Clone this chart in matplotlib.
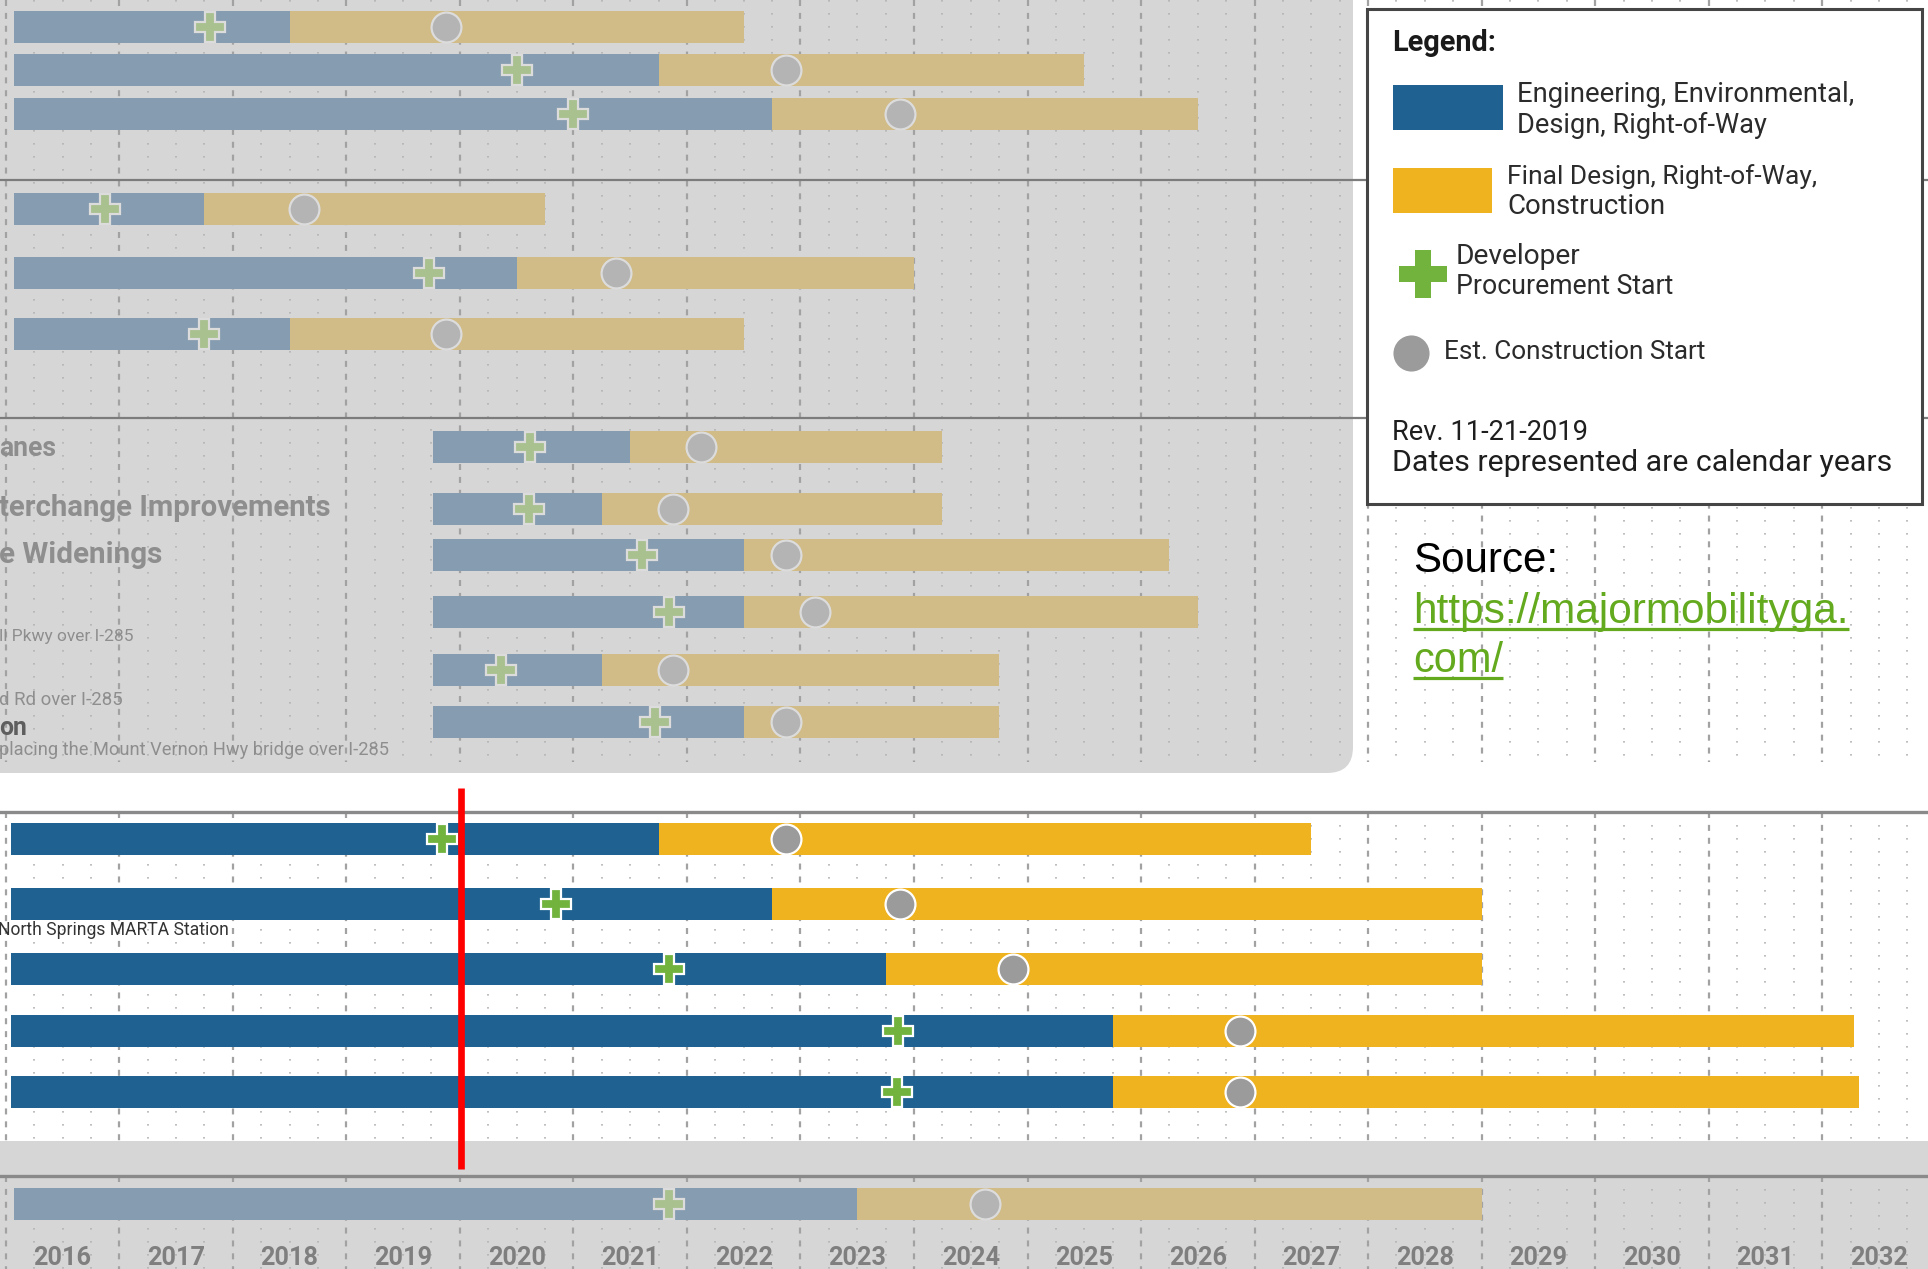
import matplotlib
matplotlib.use("Agg")
import matplotlib.pyplot as plt
from matplotlib.patches import FancyBboxPatch, Rectangle
import numpy as np

plt.rcParams["font.family"] = ["Roboto", "DejaVu Sans"]

# schedule per project row, in calendar years
eng_start = [2016.07, 2016.07, 2016.07, 2016.07, 2016.07, 2016.07,
             2019.76, 2019.76, 2019.76, 2019.76, 2019.76, 2019.76,
             2016.05, 2016.05, 2016.05, 2016.05, 2016.05,
             2016.07]
eng_end = [2018.5, 2021.75, 2022.75, 2017.75, 2020.5, 2018.5,
           2021.5, 2021.25, 2022.5, 2022.5, 2021.25, 2022.5,
           2021.75, 2022.75, 2023.75, 2025.75, 2025.75,
           2023.5]
procurement = [2017.8, 2020.5, 2021.0, 2016.87, 2019.73, 2017.75,
               2020.62, 2020.61, 2021.6, 2021.84, 2020.36, 2021.72,
               2019.84, 2020.85, 2021.84, 2023.86, 2023.85,
               2021.84]
construction = [2019.875, 2022.875, 2023.875, 2018.625, 2021.375, 2019.875,
                2022.125, 2021.875, 2022.875, 2023.125, 2021.875, 2022.875,
                2022.875, 2023.875, 2024.875, 2026.875, 2026.875,
                2024.625]
final_end = [2022.5, 2025.5, 2026.5, 2020.75, 2024.0, 2022.5,
             2024.25, 2024.25, 2026.25, 2026.5, 2024.75, 2024.75,
             2027.5, 2029.0, 2029.0, 2032.28, 2032.32,
             2029.0]
active = [False] * 12 + [True] * 5 + [False]
years = list(range(2016, 2033))
today = 2020.01

row_labels = ["anes", "terchange Improvements", "e Widenings"]
sub_labels = ["ll Pkwy over I-285", "d Rd over I-285",
              "placing the Mount Vernon Hwy bridge over I-285"]
legend_text = [["Engineering, Environmental,", "Design, Right-of-Way"],
               ["Final Design, Right-of-Way,", "Construction"],
               ["Developer", "Procurement Start"],
               ["Est. Construction Start"]]

# layout (pixels from top of the 1928x1269 canvas)
W, H = 1928, 1269
row_y = [27, 70, 114, 209, 273, 334,
         447, 509, 555, 612, 670, 722,
         839, 904, 969, 1031, 1092,
         1204]
BAR_H = 32

PANEL = "#d6d6d6"
BLUE, GOLD, GREEN, DOT = "#1f6190", "#efb31f", "#72b33e", "#9b9b9b"
BLUE_DIM, GOLD_DIM, GREEN_DIM, DOT_DIM = "#869db1", "#d1bb86", "#a8c18e", "#b4b4b4"

fig = plt.figure(figsize=(19.28, 12.69), dpi=100)
renderer = fig.canvas.get_renderer()


def fit(t, width):
    w = t.get_window_extent(renderer).width
    t.set_fontsize(t.get_fontsize() * width / w)
    return t


# background panels
bg = fig.add_axes([0, 0, 1, 1], zorder=0)
bg.set_xlim(0, W)
bg.set_ylim(H, 0)
bg.axis("off")
bg.add_patch(FancyBboxPatch((-60, -60), 1353 + 60, 773 + 60,
                            boxstyle="round,pad=0,rounding_size=26", fc=PANEL, ec="none"))
bg.add_patch(Rectangle((0, 1141), W, H - 1141, fc=PANEL, ec="none"))

# timeline
ax = fig.add_axes([0, 0, 1, 1], zorder=1)
ax.set_xlim(2015.9494, 2032.9317)
ax.set_ylim(H, 0)
ax.axis("off")

quarters = np.arange(2016, 2033.01, 0.25)
major = quarters[quarters % 1 == 0]
minor = quarters[quarters % 1 != 0]
for y0, y1 in [(0, 762), (812, 1141), (1176, H)]:
    ax.vlines(major, y0, y1, color="#a2a2a2", lw=1.6, linestyles=(0, (2.7, 3.1)), zorder=1)
    ax.vlines(minor, y0, y1, color="#b3b3b3", lw=1.2, linestyles=(0, (1.0, 6.8)), zorder=1)

for y in [180, 418]:
    ax.axhline(y, color="#7c7c7c", lw=1.6, zorder=1.5)
for y in [812, 1176]:
    ax.axhline(y, color="#8a8a8a", lw=2.4, zorder=1.5)

e0, e1 = np.array(eng_start), np.array(eng_end)
f1 = np.array(final_end)
proc, cons = np.array(procurement), np.array(construction)
ry = np.array(row_y)
on = np.array(active)

styles = [(~on, BLUE_DIM, GOLD_DIM, GREEN_DIM, DOT_DIM, "#dcdcdc"),
          (on, BLUE, GOLD, GREEN, DOT, "white")]
for m, cb, cg, cp, cd, edge in styles:
    ax.barh(ry[m], (e1 - e0)[m], left=e0[m], height=BAR_H, color=cb, lw=0, zorder=2)
    ax.barh(ry[m], (f1 - e1)[m], left=e1[m], height=BAR_H, color=cg, lw=0, zorder=2)
    ax.plot(proc[m], ry[m], ls="none", marker="P", ms=21, mfc=cp, mec=edge, mew=1.6, zorder=4)
    ax.plot(cons[m], ry[m], ls="none", marker="o", ms=21.5, mfc=cd, mec=edge, mew=1.6, zorder=4)

ax.vlines(today, 788, 1169, color="#ff0000", lw=4.8, zorder=5)

yl = [ax.text(yr + 0.5, 1258, str(yr), ha="center", va="center", color="#7f7f7f",
              fontweight="bold", fontsize=18)
      for yr in years]
fit(yl[0], 58)
for t in yl[1:]:
    t.set_fontsize(yl[0].get_fontsize())

# overlay: labels, legend and source
ov = fig.add_axes([0, 0, 1, 1], zorder=2)
ov.set_xlim(0, W)
ov.set_ylim(H, 0)
ov.axis("off")

for txt, y, w in zip(row_labels, [448, 508, 555], [57, 333, 163]):
    fit(ov.text(-1, y, txt, va="center", color="#8e8e8e", fontweight="semibold", fontsize=18), w)
for txt, y, w in zip(sub_labels, [637, 700, 750], [134, 123, 388]):
    fit(ov.text(-1, y, txt, va="center", color="#8e8e8e", fontsize=12), w)
fit(ov.text(-1, 728, "on", va="center", color="#5e5e5e", fontweight="bold", fontsize=18), 28)
fit(ov.text(-2, 930, "North Springs MARTA Station", va="center", color="#333333", fontsize=12), 229)

ov.add_patch(Rectangle((1366.5, 9.3), 555, 495, fc="white", ec="#454545", lw=2.2))
fit(ov.text(1392, 43, "Legend:", va="center", fontweight="bold", color="#1a1a1a", fontsize=17), 104)
ov.add_patch(Rectangle((1393, 85), 110, 45, fc=BLUE, ec="none"))
ov.add_patch(Rectangle((1393, 168), 99, 45, fc=GOLD, ec="none"))
ov.plot(1423, 273.5, marker="P", ms=35, mfc=GREEN, mec=GREEN, mew=0)
ov.plot(1411, 352.5, marker="o", ms=26, mfc=DOT, mec=DOT, mew=0)

leg_pos = [(1517, [95, 125], [337, 250]),
           (1507, [177, 207], [310, 158]),
           (1456, [257, 287], [125, 217]),
           (1444, [352], [262])]
for lines, (x, ys, ws) in zip(legend_text, leg_pos):
    for txt, y, w in zip(lines, ys, ws):
        fit(ov.text(x, y, txt, va="center", color="#2b2b2b", fontsize=18), w)
fit(ov.text(1392, 432, "Rev. 11-21-2019", va="center", color="#1e1e1e", fontsize=18), 196)
fit(ov.text(1392, 463, "Dates represented are calendar years", va="center",
            color="#1e1e1e", fontsize=18), 500)

src = dict(family=["Liberation Sans", "DejaVu Sans"], va="baseline", fontsize=30)
fit(ov.text(1413, 572, "Source:", color="black", **src), 145)
for txt, y, w in [("https://majormobilityga.", 623, 435), ("com/", 672, 90)]:
    t = fit(ov.text(1413, y, txt, color="#64aa1e", **src), w)
    bb = t.get_window_extent(renderer)
    ov.plot([1413, 1413 + bb.width], [y + 6, y + 6], color="#64aa1e", lw=2.3,
            solid_capstyle="butt")

fig.savefig("out.png", dpi=100)
